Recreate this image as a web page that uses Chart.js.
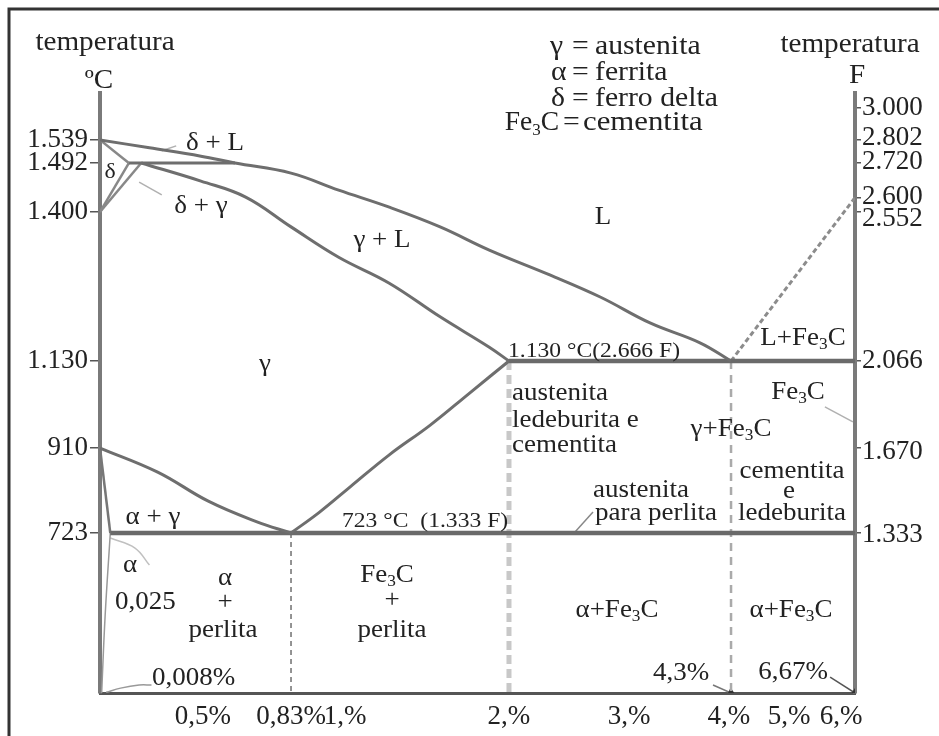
<!DOCTYPE html>
<html>
<head>
<meta charset="utf-8">
<script src="https://cdn.jsdelivr.net/npm/chart.js@4.4.1/dist/chart.umd.min.js"></script>
<style>
html, body { margin: 0; padding: 0; background: #fff; }
#wrap { width: 939px; height: 736px; }
</style>
</head>
<body>
<div id="wrap"><canvas id="diagram"></canvas></div>
<script>
// linhas do diagrama: [carbono %, temperatura °C]
const liquidus = [[0,1539],[0.24,1523],[0.49,1506],[0.62,1492],[0.83,1473],[0.98,1441],[1.27,1409],[1.58,1373],[1.88,1331],[2.34,1286],[2.76,1246],[3.21,1199],[3.71,1163],[4.3,1130]];
const deltaSolidus = [[0,1539],[0.14,1492]];
const peritectic = [[0.14,1492],[0.62,1492]];
const deltaLimit = [[0.14,1492],[0,1400]];
const gammaLimit = [[0.2,1492],[0,1400]];
const gammaSolidus = [[0.2,1492],[0.49,1458],[0.66,1428],[0.83,1373],[0.98,1318],[1.27,1271],[1.58,1210],[1.88,1155],[2,1130]];
const eutectic = [[2,1130],[6.67,1130]];
const acm = [[2,1130],[1.76,1049],[1.52,968],[1.27,895],[1.03,824],[0.92,769],[0.83,723]];
const a3 = [[0,910],[0.28,857],[0.52,793],[0.7,748],[0.83,723]];
const eutectoid = [[0.05,723],[6.67,723]];
const alphaLimit = [[0,910],[0.05,723]];
const alphaSolvus = [[0.05,723],[0.025,350],[0.008,0]];
const cementiteLiquidus = [[4.3,1130],[6.67,1427]];
const eutectoidComp = [[0.83,723],[0.83,0]];
const steelLimit = [[2,1130],[2,0]];
const eutecticComp = [[4.3,1130],[4.3,0]];

// setas e indicadores
const pointerFe3C = [[5.69,1014],[6.57,976]];
const pointerPerlita = [[2.70,769],[2.55,725]];
const arrow43 = [[3.84,36],[4.3,0]];
const arrow667 = [[5.79,72],[6.67,0]];
const pointer008 = [[0.25,36],[0.19,36],[0.1,22],[0.03,3]];
const pointerAlpha = [[0.05,700],[0.17,655],[0.24,578]];
const pointerDeltaL = [[0.30,1517],[0.37,1527]];
const pointerDeltaGamma = [[0.19,1456],[0.30,1432]];

// eixos
const xTicks = [0.5, 0.83, 1, 2, 3, 4, 5, 6];
const xTickLabels = ['0,5%', '0,83%', '1,%', '2,%', '3,%', '4,%', '5,%', '6,%'];
const cTicks = [723, 910, 1130, 1400, 1492, 1539];
const fTicks = [1333, 1670, 2066, 2552, 2600, 2720, 2802, 3000];

// escala não linear (o diagrama é esquemático)
class PiecewiseScale extends Chart.LinearScale {
  static id = 'piecewise';
  static defaults = {};
  buildTicks() {
    return this.options.tickValues.map(v => ({ value: v }));
  }
  toDecimal(v) {
    const b = this.options.breaks;
    if (v <= b[0][0]) return b[0][1];
    for (let i = 1; i < b.length; i++) {
      if (v <= b[i][0]) {
        const [v0, d0] = b[i - 1], [v1, d1] = b[i];
        return d0 + (v - v0) / (v1 - v0) * (d1 - d0);
      }
    }
    return b[b.length - 1][1];
  }
  getPixelForValue(v) {
    if (v === null || isNaN(v)) return NaN;
    return this.getPixelForDecimal(this.toDecimal(v));
  }
  getValueForPixel(p) {
    const d = this.getDecimalForPixel(p);
    const b = this.options.breaks;
    for (let i = 1; i < b.length; i++) {
      if (d <= b[i][1]) {
        const [v0, d0] = b[i - 1], [v1, d1] = b[i];
        return v0 + (d - d0) / (d1 - d0) * (v1 - v0);
      }
    }
    return b[b.length - 1][0];
  }
  // pequeno deslocamento dos rótulos apertados (como no original)
  _computeLabelItems(area) {
    const items = super._computeLabelItems(area);
    const shift = this.options.labelShift;
    if (shift) items.forEach((it, i) => { it.options.translation[1] += shift[i] || 0; });
    return items;
  }
}
Chart.register(PiecewiseScale);

const xBreaks = [[0,0],[0.5,0.1364],[0.83,0.2530],[1,0.3245],[2,0.5417],[3,0.7007],[4,0.8331],[4.3,0.8358],[5,0.9126],[6,0.9815],[6.67,1]];
const cBreaks = [[0,0],[723,0.2667],[910,0.4083],[1130,0.5533],[1400,0.8017],[1492,0.8833],[1539,0.9217],[1700,1]];
const fBreaks = cBreaks.map(([c, d]) => [c * 1.8 + 32, d]);

const SERIF = '"Liberation Serif", "DejaVu Serif", serif';
const fmt = n => String(n).replace(/\B(?=(\d{3})+(?!\d))/g, '.');

function line(points, style) {
  return Object.assign({
    data: points.map(([x, y]) => ({ x, y })),
    showLine: true,
    pointRadius: 0,
    borderColor: '#6e6e6e',
    borderWidth: 3,
    tension: 0,
    fill: false
  }, style || {});
}

const curve = { tension: 0.4 };
const light = { borderColor: '#b0b0b0', borderWidth: 1.5 };

const datasets = [
  line(liquidus, curve),
  line(deltaSolidus, { borderWidth: 2.5, borderColor: '#888' }),
  line(peritectic),
  line(deltaLimit, { borderWidth: 2.5, borderColor: '#888' }),
  line(gammaLimit, { borderWidth: 2.5, borderColor: '#888' }),
  line(gammaSolidus, curve),
  line(eutectic, { borderWidth: 4.5, borderColor: '#6a6a6a' }),
  line(acm, curve),
  line(a3, curve),
  line(eutectoid, { borderWidth: 4.5, borderColor: '#6a6a6a' }),
  line(alphaLimit, { borderWidth: 2.5, borderColor: '#777' }),
  line(alphaSolvus, { borderWidth: 1.5, borderColor: '#999', tension: 0.4 }),
  line(cementiteLiquidus, { borderColor: '#8c8c8c', borderWidth: 3, borderDash: [5, 3] }),
  line(eutectoidComp, { borderColor: '#707070', borderWidth: 1.5, borderDash: [5, 4] }),
  line(steelLimit, { borderColor: '#c8c8c8', borderWidth: 5, borderDash: [9, 5] }),
  line(eutecticComp, { borderColor: '#aaaaaa', borderWidth: 2.5, borderDash: [8, 6] }),
  line(pointerFe3C, light),
  line(pointerPerlita, { borderColor: '#888', borderWidth: 1.5 }),
  line(arrow43, { borderColor: '#777', borderWidth: 1.5, pointRadius: [0, 4], pointStyle: 'triangle', rotation: 115, pointBackgroundColor: '#333', pointBorderColor: '#333' }),
  line(arrow667, { borderColor: '#555', borderWidth: 1.5, pointRadius: [0, 4], pointStyle: 'triangle', rotation: 123, pointBackgroundColor: '#333', pointBorderColor: '#333' }),
  line(pointer008, { borderColor: '#999', borderWidth: 1.5, tension: 0.4 }),
  line(pointerAlpha, { borderColor: '#c0c0c0', borderWidth: 1.5, tension: 0.4 }),
  line(pointerDeltaL, light),
  line(pointerDeltaGamma, light)
];

// textos: [texto, x, y, tamanho, alinhamento, esticamento]   (_3 = índice)
const notes = [
  ['temperatura', 105, 43, 27, 'center'],
  ['ºC', 99, 81, 27, 'center'],
  ['temperatura', 850, 45, 27, 'center'],
  ['F', 857, 76, 27, 'center'],
  ['γ', 550, 47, 27.5, 'left'], ['=', 572, 47, 27.5, 'left'], ['austenita', 595, 47, 27.5, 'left'],
  ['α', 551, 73, 27.5, 'left'], ['=', 572, 73, 27.5, 'left'], ['ferrita', 595, 73, 27.5, 'left'],
  ['δ', 551, 99, 27.5, 'left'], ['=', 572, 99, 27.5, 'left'], ['ferro delta', 595, 99, 27.5, 'left'],
  ['Fe_3C', 559, 123, 27.5, 'right', 1.0], ['=', 563, 123, 27.5, 'left'], ['cementita', 583, 123, 27.5, 'left', 1.12],
  ['δ + L', 215, 143, 25, 'center'],
  ['δ', 110, 172, 22, 'center'],
  ['δ + γ', 201, 206, 25, 'center'],
  ['L', 603, 217, 25, 'center'],
  ['γ + L', 382, 240, 25, 'center'],
  ['γ', 265, 364, 25, 'center'],
  ['1.130 °C(2.666 F)', 508, 352, 20, 'left', 1.18],
  ['L+Fe_3C', 803, 338, 25, 'center'],
  ['Fe_3C', 798, 392, 25, 'center'],
  ['austenita', 512, 393, 25, 'left'],
  ['ledeburita e', 512, 420, 25, 'left'],
  ['cementita', 512, 445, 25, 'left'],
  ['γ+Fe_3C', 731, 429, 25, 'center'],
  ['cementita', 792, 471, 25, 'center'],
  ['e', 789, 491, 25, 'center'],
  ['ledeburita', 792, 513, 25, 'center'],
  ['austenita', 641, 490, 25, 'center'],
  ['para perlita', 656, 513, 25, 'center'],
  ['723 °C  (1.333 F)', 342, 522, 20, 'left', 1.18],
  ['α + γ', 153, 517, 25, 'center'],
  ['α', 130, 565, 25, 'center'],
  ['0,025', 115, 602, 25, 'left'],
  ['α', 225, 578, 25, 'center'],
  ['+', 225, 602, 25, 'center'],
  ['perlita', 223, 630, 25, 'center'],
  ['Fe_3C', 387, 575, 25, 'center'],
  ['+', 392, 600, 25, 'center'],
  ['perlita', 392, 630, 25, 'center'],
  ['α+Fe_3C', 617, 610, 25, 'center'],
  ['α+Fe_3C', 791, 610, 25, 'center'],
  ['0,008%', 152, 678, 25, 'left'],
  ['4,3%', 681, 673, 25, 'center'],
  ['6,67%', 793, 672, 25, 'center']
];

function drawText(ctx, str, x, y, size, align, sx) {
  const parts = str.split(/(_\d)/).filter(Boolean);
  const big = size + 'px ' + SERIF;
  const small = Math.round(size * 0.62) + 'px ' + SERIF;
  ctx.save();
  ctx.translate(x, y);
  ctx.scale(sx || 1.08, 1);
  ctx.textBaseline = 'middle';
  ctx.textAlign = 'left';
  ctx.fillStyle = '#222';
  let w = 0;
  const widths = parts.map(p => {
    const sub = p[0] === '_';
    ctx.font = sub ? small : big;
    const m = ctx.measureText(sub ? p.slice(1) : p).width;
    w += m;
    return m;
  });
  let cx = align === 'center' ? -w / 2 : align === 'right' ? -w : 0;
  parts.forEach((p, i) => {
    const sub = p[0] === '_';
    ctx.font = sub ? small : big;
    ctx.fillText(sub ? p.slice(1) : p, cx, sub ? size * 0.28 : 0);
    cx += widths[i];
  });
  ctx.restore();
}

const decor = {
  id: 'decor',
  beforeDraw(chart) {
    const ctx = chart.ctx;
    ctx.save();
    ctx.fillStyle = '#fff';
    ctx.fillRect(0, 0, chart.width, chart.height);
    ctx.strokeStyle = '#333';
    ctx.lineWidth = 3;
    ctx.beginPath();
    ctx.moveTo(chart.width, 9);
    ctx.lineTo(9, 9);
    ctx.lineTo(9, chart.height);
    ctx.stroke();
    ctx.restore();
  },
  afterDraw(chart) {
    notes.forEach(n => drawText(chart.ctx, n[0], n[1], n[2], n[3], n[4], n[5]));
  }
};

const tickFont = { family: SERIF, size: 27 };

new Chart(document.getElementById('diagram'), {
  type: 'scatter',
  data: { datasets },
  options: {
    responsive: true,
    maintainAspectRatio: false,
    animation: false,
    events: [],
    layout: { padding: { top: 93, left: 0, right: 0, bottom: 0 } },
    plugins: { legend: { display: false }, tooltip: { enabled: false } },
    scales: {
      x: {
        type: 'piecewise', position: 'bottom', min: 0, max: 6.67,
        breaks: xBreaks, tickValues: xTicks,
        grid: { display: false, drawTicks: false },
        border: { color: '#555', width: 3 },
        ticks: { autoSkip: false, maxRotation: 0, minRotation: 0, padding: 8, color: '#222', font: tickFont,
          callback: (v, i) => xTickLabels[i] },
        afterFit: s => { s.height = 43; }
      },
      y: {
        type: 'piecewise', position: 'left', min: 0, max: 1700,
        breaks: cBreaks, tickValues: cTicks,
        grid: { drawOnChartArea: false, drawTicks: true, tickLength: 10, color: '#555', lineWidth: 1.5 },
        border: { color: '#7a7a7a', width: 4 },
        ticks: { autoSkip: false, padding: 2, color: '#222', font: tickFont, callback: v => fmt(v) },
        afterFit: s => { s.width = 100; }
      },
      yF: {
        type: 'piecewise', position: 'right', min: 32, max: 1700 * 1.8 + 32,
        breaks: fBreaks, tickValues: fTicks, labelShift: [2, 4, 0, 7, -1, 0, -2, 0],
        grid: { drawOnChartArea: false, drawTicks: true, tickLength: 6, color: '#555', lineWidth: 1.5 },
        border: { color: '#7a7a7a', width: 4 },
        ticks: { autoSkip: false, padding: 1, color: '#222', font: tickFont, callback: v => fmt(v) },
        afterFit: s => { s.width = 84; }
      }
    }
  },
  plugins: [decor]
});
</script>
</body>
</html>
